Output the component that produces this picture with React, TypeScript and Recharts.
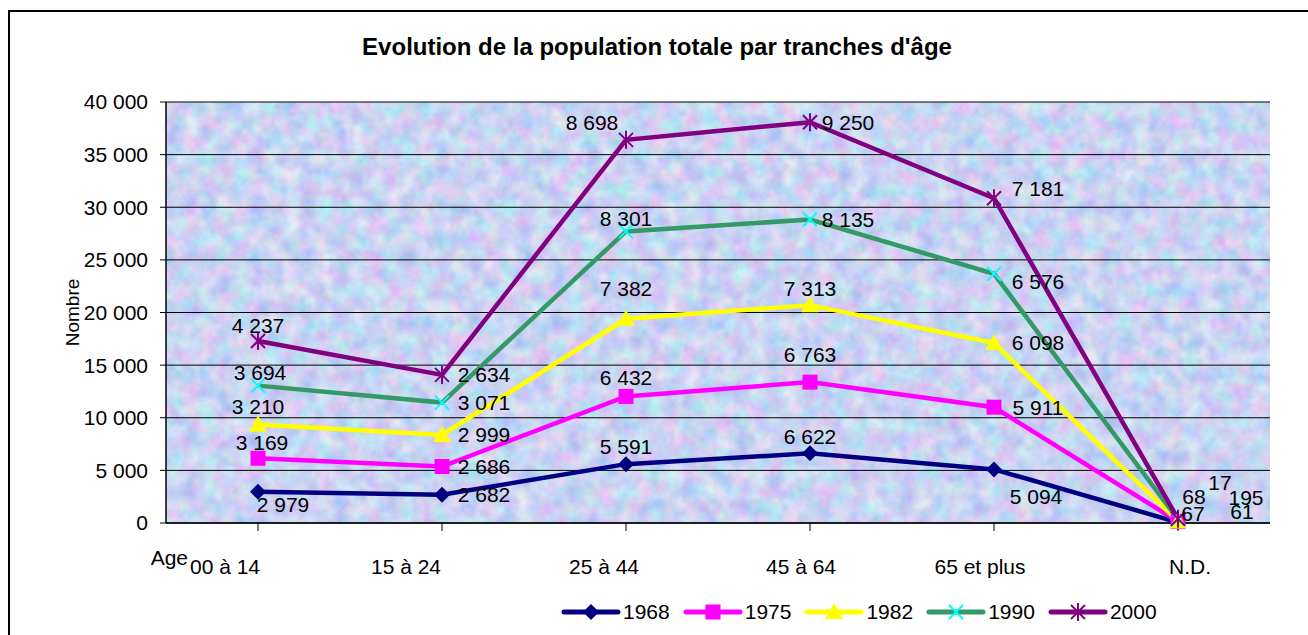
import React from "react";
import {
  LineChart,
  Line,
  XAxis,
  YAxis,
  CartesianGrid,
  Legend,
  LabelList,
  Label,
} from "recharts";

const FONT = "'Liberation Sans', Arial, sans-serif";

// categories
const ageGroups = ["00 à 14", "15 à 24", "25 à 44", "45 à 64", "65 et plus", "N.D."];

// population by census year (values are stacked in the chart)
const pop1968 = [2979, 2682, 5591, 6622, 5094, 67];
const pop1975 = [3169, 2686, 6432, 6763, 5911, 68];
const pop1982 = [3210, 2999, 7382, 7313, 6098, 17];
const pop1990 = [3694, 3071, 8301, 8135, 6576, 195];
const pop2000 = [4237, 2634, 8698, 9250, 7181, 61];

const yTicks = [0, 5000, 10000, 15000, 20000, 25000, 30000, 35000, 40000];

const series = [
  { year: "1968", values: pop1968, stroke: "#000080", marker: "#000080", shape: "diamond" },
  { year: "1975", values: pop1975, stroke: "#FF00FF", marker: "#FF00FF", shape: "square" },
  { year: "1982", values: pop1982, stroke: "#FFFF00", marker: "#FFFF00", shape: "triangle" },
  { year: "1990", values: pop1990, stroke: "#339966", marker: "#00FFFF", shape: "cross" },
  { year: "2000", values: pop2000, stroke: "#800080", marker: "#800080", shape: "star" },
];

// where each data label sits relative to its point (layout only)
const labelOffsets: Record<string, [number, number][]> = {
  "1968": [[25, 13], [42, 0], [0, -18], [0, -17], [42, 27], [15, -9]],
  "1975": [[4, -16], [42, 0], [0, -19], [0, -28], [44, 0], [16, -25]],
  "1982": [[0, -18], [42, 0], [0, -30], [0, -17], [44, 0], [42, -39]],
  "1990": [[2, -13], [42, 0], [0, -13], [38, 0], [44, 8], [68, -22]],
  "2000": [[0, -16], [42, 0], [-34, -17], [38, 0], [44, -10], [64, -7]],
};

// shift of the category labels (Excel drew them off-centre)
const tickShift = [-33, -36, -22, -9, -14, 12];

const data = ageGroups.map((age, i) => {
  const row: any = { age };
  let sum = 0;
  series.forEach((s) => {
    sum += s.values[i];
    row["v" + s.year] = s.values[i];
    row["c" + s.year] = sum;
  });
  return row;
});

const fmt = (n: number) => String(n).replace(/\B(?=(\d{3})+(?!\d))/g, " ");

function Marker({ shape, cx, cy, color }: { shape: string; cx: number; cy: number; color: string }) {
  switch (shape) {
    case "diamond":
      return <polygon points={`${cx},${cy - 8} ${cx + 8},${cy} ${cx},${cy + 8} ${cx - 8},${cy}`} fill={color} />;
    case "square":
      return <rect x={cx - 7.5} y={cy - 7.5} width={15} height={15} fill={color} />;
    case "triangle":
      return <polygon points={`${cx},${cy - 9} ${cx + 9},${cy + 7} ${cx - 9},${cy + 7}`} fill={color} />;
    case "cross":
      return (
        <g stroke={color} strokeWidth={2}>
          <line x1={cx - 7} y1={cy - 7} x2={cx + 7} y2={cy + 7} />
          <line x1={cx - 7} y1={cy + 7} x2={cx + 7} y2={cy - 7} />
        </g>
      );
    default:
      return (
        <g stroke={color} strokeWidth={2}>
          <line x1={cx - 7} y1={cy - 7} x2={cx + 7} y2={cy + 7} />
          <line x1={cx - 7} y1={cy + 7} x2={cx + 7} y2={cy - 7} />
          <line x1={cx} y1={cy - 9} x2={cx} y2={cy + 9} />
        </g>
      );
  }
}

const renderLegend = () => (
  <div
    style={{
      display: "flex",
      alignItems: "center",
      height: 30,
      paddingLeft: 561,
      fontFamily: FONT,
      fontSize: 21,
      color: "#000",
    }}
  >
    {series.map((s) => (
      <div key={s.year} style={{ display: "flex", alignItems: "center", marginRight: 13 }}>
        <svg width={60} height={20}>
          <line x1={3} y1={10} x2={57} y2={10} stroke={s.stroke} strokeWidth={5} strokeLinecap="round" />
          <Marker shape={s.shape} cx={30} cy={10} color={s.marker} />
        </svg>
        <span style={{ marginLeft: 2 }}>{s.year}</span>
      </div>
    ))}
  </div>
);

const AgeTick = (p: any) => (
  <text
    x={p.x + tickShift[p.index]}
    y={p.y}
    dy="0.71em"
    textAnchor="middle"
    fill="#000"
    fontSize={21}
    fontFamily={FONT}
  >
    {p.payload.value}
  </text>
);

export default function App() {
  return (
    <div style={{ position: "absolute", left: 0, top: 0, width: 1308, height: 635, overflow: "hidden", background: "#fff" }}>
      <svg width={0} height={0} style={{ position: "absolute" }}>
        <defs>
          <filter id="noise" x="0" y="0" width="100%" height="100%" colorInterpolationFilters="sRGB">
            <feTurbulence type="fractalNoise" baseFrequency="0.06" numOctaves={3} seed={7} />
            <feColorMatrix
              type="matrix"
              values="0.42 0 0 0 0.58  0 0.3 0 0 0.68  0 0 0.1 0 0.9  0 0 0 0 1"
            />
          </filter>
          <pattern id="bgPat" patternUnits="userSpaceOnUse" x={0} y={0} width={1308} height={635}>
            <rect width={1308} height={635} filter="url(#noise)" />
          </pattern>
        </defs>
      </svg>
      <div
        style={{
          position: "absolute",
          left: 8,
          top: 10,
          width: 1400,
          height: 700,
          border: "2px solid #000",
        }}
      />
      <div
        style={{
          position: "absolute",
          left: 0,
          top: 33,
          width: 1314,
          textAlign: "center",
          fontFamily: FONT,
          fontWeight: "bold",
          fontSize: 24,
          lineHeight: "28px",
        }}
      >
        Evolution de la population totale par tranches d'âge
      </div>
      <div style={{ position: "absolute", left: 0, top: 0 }}>
        <LineChart width={1308} height={635} data={data} margin={{ top: 102, right: 38, bottom: 8, left: 86 }}>
          <CartesianGrid vertical={false} stroke="#000" strokeWidth={1} fill="url(#bgPat)" fillOpacity={1} />
          <XAxis
            dataKey="age"
            height={74}
            interval={0}
            padding={{ left: 92, right: 92 }}
            axisLine={{ stroke: "#000", strokeWidth: 1.5 }}
            tickLine={{ stroke: "#000" }}
            tickSize={8}
            tickMargin={28}
            tick={<AgeTick />}
          >
            <Label
              content={(p: any) => (
                <text
                  x={p.viewBox.x + 22}
                  y={p.viewBox.y + 42}
                  textAnchor="end"
                  fill="#000"
                  fontSize={21}
                  fontFamily={FONT}
                >
                  Age
                </text>
              )}
            />
          </XAxis>
          <XAxis
            xAxisId="top"
            orientation="top"
            dataKey="age"
            height={0}
            padding={{ left: 92, right: 92 }}
            tick={false}
            tickLine={false}
            axisLine={{ stroke: "#808080", strokeWidth: 3 }}
          />
          <YAxis
            domain={[0, 40000]}
            ticks={yTicks}
            interval={0}
            tickFormatter={fmt}
            width={80}
            axisLine={{ stroke: "#000", strokeWidth: 1.5 }}
            tickLine={{ stroke: "#000" }}
            tickSize={6}
            tickMargin={12}
            tick={{ fill: "#000", fontSize: 21, fontFamily: FONT }}
          >
            <Label
              content={(p: any) => {
                const x = p.viewBox.x - 14;
                const y = p.viewBox.y + p.viewBox.height / 2;
                return (
                  <text
                    x={x}
                    y={y}
                    transform={`rotate(-90, ${x}, ${y})`}
                    textAnchor="middle"
                    dominantBaseline="central"
                    fill="#000"
                    fontSize={19}
                    fontFamily={FONT}
                  >
                    Nombre
                  </text>
                );
              }}
            />
          </YAxis>
          <YAxis
            yAxisId="right"
            orientation="right"
            domain={[0, 40000]}
            width={0}
            tick={false}
            tickLine={false}
            axisLine={{ stroke: "#808080", strokeWidth: 3 }}
          />
          {series.map((s) => (
            <Line
              key={s.year}
              type="linear"
              dataKey={"c" + s.year}
              name={s.year}
              stroke={s.stroke}
              strokeWidth={4.5}
              activeDot={false}
              isAnimationActive={false}
              dot={(p: any) => (
                <Marker key={`${s.year}-${p.index}`} shape={s.shape} cx={p.cx} cy={p.cy} color={s.marker} />
              )}
            >
              <LabelList
                dataKey={"v" + s.year}
                content={(p: any) => {
                  const off = labelOffsets[s.year][p.index] || [0, -16];
                  return (
                    <text
                      x={p.x + off[0]}
                      y={p.y + off[1]}
                      textAnchor="middle"
                      dominantBaseline="central"
                      fill="#000"
                      fontSize={21}
                      fontFamily={FONT}
                    >
                      {fmt(p.value)}
                    </text>
                  );
                }}
              />
            </Line>
          ))}
          <Legend verticalAlign="bottom" content={renderLegend} wrapperStyle={{ left: 0, width: 1308 }} />
        </LineChart>
      </div>
    </div>
  );
}
